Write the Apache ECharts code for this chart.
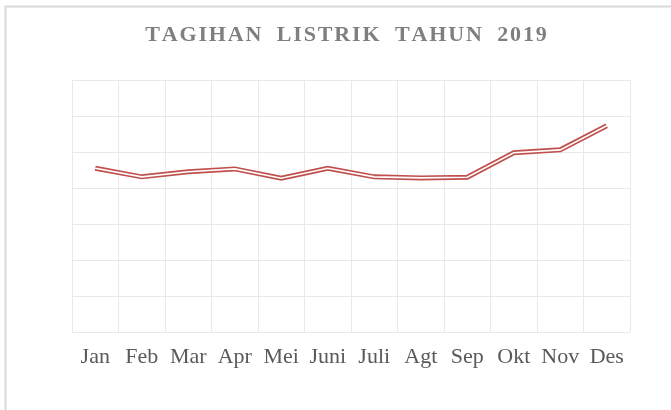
<!DOCTYPE html>
<html>
<head>
<meta charset="utf-8">
<script src="https://cdn.jsdelivr.net/npm/echarts@6/dist/echarts.min.js"></script>
<style>
  html, body { margin: 0; padding: 0; background: #fff; }
  #chart { width: 671px; height: 410px; }
</style>
</head>
<body>
<div id="chart"></div>
<script>
const TITLE = 'TAGIHAN LISTRIK TAHUN 2019';
const months = ['Jan', 'Feb', 'Mar', 'Apr', 'Mei', 'Juni', 'Juli', 'Agt', 'Sep', 'Okt', 'Nov', 'Des'];
// tagihan per bulan (skala sumbu 0-700, label sumbu y disembunyikan)
const tagihan = [455, 431, 445, 453, 427, 455, 431, 428, 430, 498, 506, 573];
const yMin = 0;
const yMax = 700;
const yStep = 100;

const RED = '#c0504d';
const GRID_COLOR = '#e9e9e9';

// spaced-out title like the Excel one (hair spaces between letters, wider gaps between words)
const spacedTitle = TITLE.split(' ')
  .map((w) => w.split('').join('\u200A'))
  .join('\u200A \u2009\u200A\u200A');

const chart = echarts.init(document.getElementById('chart'), null, { renderer: 'canvas' });

chart.setOption({
  backgroundColor: '#fff',
  animation: false,
  title: {
    text: spacedTitle,
    left: 341,
    textAlign: 'center',
    top: 19,
    textStyle: {
      fontFamily: 'Liberation Serif',
      fontWeight: 'bold',
      fontSize: 22,
      color: '#7f7f7f',
    },
  },
  graphic: [
    {
      type: 'rect',
      shape: { x: 5.5, y: 6.5, width: 720, height: 460 },
      style: { fill: 'none', stroke: '#d9d9d9', lineWidth: 2 },
      silent: true,
    },
  ],
  grid: { left: 72, right: 41, top: 80, bottom: 78 },
  xAxis: {
    type: 'category',
    data: months,
    boundaryGap: true,
    axisLine: { show: true, lineStyle: { color: GRID_COLOR, width: 1 } },
    axisTick: { show: false },
    axisLabel: {
      fontFamily: 'Liberation Serif',
      fontSize: 22,
      color: '#595959',
      margin: 14,
      interval: 0,
    },
    splitLine: { show: true, interval: 0, lineStyle: { color: GRID_COLOR, width: 1 } },
  },
  yAxis: {
    type: 'value',
    min: yMin,
    max: yMax,
    interval: yStep,
    axisLine: { show: false },
    axisTick: { show: false },
    axisLabel: { show: false },
    splitLine: { show: true, lineStyle: { color: GRID_COLOR, width: 1 } },
  },
  series: [
    {
      name: 'Tagihan',
      type: 'line',
      data: tagihan,
      symbol: 'none',
      lineStyle: { color: RED, width: 5, join: 'miter' },
      z: 2,
    },
    {
      name: 'Tagihan-inner',
      type: 'line',
      data: tagihan,
      symbol: 'none',
      lineStyle: { color: '#ffffff', width: 1.6, join: 'miter' },
      z: 3,
    },
  ],
});
</script>
</body>
</html>
